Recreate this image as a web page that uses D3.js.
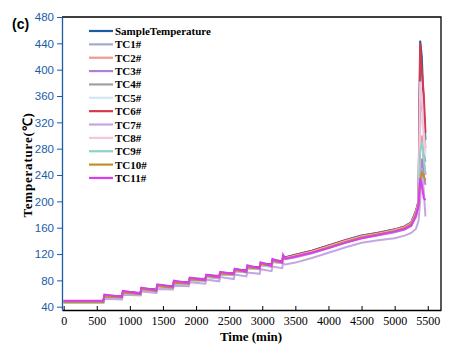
<!DOCTYPE html>
<html><head><meta charset="utf-8">
<script src="https://cdn.jsdelivr.net/npm/d3@7"></script>
<style>
html,body{margin:0;padding:0;background:#fff;}
svg{display:block;}
</style></head>
<body>
<svg id="chart" width="469" height="355"></svg>
<script>
// ---- data ----
const seriesNames = ["SampleTemperature","TC1#","TC2#","TC3#","TC4#","TC5#","TC6#","TC7#","TC8#","TC9#","TC10#","TC11#"];
const seriesColors = ["#1a5ca8","#a3aad3","#f0998c","#ad82d3","#a0a0a0","#d2e8f0","#d8384c","#c4a6e0","#f3c6e0","#92d0c8","#bf9129","#dc3cf0"];
const timeMin = [0,600,615,880,895,1160,1175,1400,1415,1650,1665,1890,1905,2140,2155,2350,2365,2570,2585,2760,2775,2960,2975,3140,3155,3300,3315,3350,3500,3750,4000,4250,4500,4750,5000,5150,5250,5320,5360,5385,5410,5440,5465];
const sampleTemp = [48.5,48.5,57,56,63,61,68,66,73,71,78,77,83,82,88,86.5,92,91,97,95,101,100,106,104.5,111,109,116,115,119,125,133,141,148,152.5,157.5,162,168,185,200,444,420,340,293];
const tc1 = [47,47,55,54,61,59,66,64,71,69,76,75,81,80,86,84.5,90,89,95,93,99,98,104,102.5,109,107,114,113,117,123,131,139,146,150.5,155.5,160,166,182,196,300,290,275,260];
const tc2 = [47.5,47.5,56,55,62,60,67,65,72,70,77,76,82,81,87,85.5,91,90,96,94,100,99,105,103.5,110,108,115,114,118,124,132,140,147,151.5,156.5,161,167,183,197,290,300,260,240];
const tc3 = [46.5,46.5,54,53,60,58,65,63,70,68,75,74,80,79,85,83,89,88,94,92,98,97,103,101,108,106,113,112,115,121,129,137,144,148.5,153,157,163,176,190,230,265,240,225];
const tc4 = [47.5,47.5,56.5,55,62.5,60,67.5,65,72.5,70,77.5,76,82.5,81,87.5,85.5,91.5,90,96.5,94,100.5,99,105.5,103.5,110.5,108,115.5,114,118,124,132,140,147,151.5,156.5,161,167,183,198,330,362,320,281];
const tc5 = [46,46,54.5,53.5,60.5,58.5,65.5,63.5,70.5,68.5,75.5,74.5,80.5,79.5,85.5,84,89.5,88.5,94.5,92.5,98.5,97.5,103.5,102,108.5,106.5,113.5,112.5,116,122,130,138,145,149.5,154.5,159,165,180,195,310,330,300,270];
const tc6 = [48,48,56.5,55.5,62.5,60.5,67.5,65.5,72.5,70.5,77.5,76.5,82.5,81.5,87.5,86,91.5,90.5,96.5,94.5,100.5,99.5,105.5,104,110.5,108.5,115.5,114.5,118.5,124.5,132.5,140.5,147.5,152,157,161.5,167.5,184,199,440,398,362,304];
const tc7 = [46,46,52,51,58,57,63,61,67,66,72,71,77,75,81,78.5,85,82,89,86,92,90,97,94,101,98.5,106,104,107,114,122,130,137,141,144,148,152,158,170,200,250,215,177];
const tc8 = [47,47,55.5,54.5,61.5,59.5,66.5,64.5,71.5,69.5,76.5,75.5,81.5,80.5,86.5,85,90.5,89.5,95.5,93.5,99.5,98.5,104.5,103,109.5,107.5,114.5,113.5,117.5,123.5,131.5,139.5,146.5,151,156,160.5,166.5,182,197,382,360,300,276];
const tc9 = [46.5,46.5,55,53.5,61,58.5,66,63.5,71,68.5,76,74.5,81,79.5,86,84,90,88.5,95,92.5,99,97.5,104,102,109,106.5,114,112.5,116,122,130,138,145,149.5,154.5,159,165,180,194,276,290,265,243];
const tc10 = [47,47,55.5,54,61.5,59,66.5,64,71.5,69,76.5,75,81.5,80,86.5,84.5,90.5,89,95.5,93,99.5,98,104.5,102.5,109.5,107,114.5,113,116.5,122.5,130.5,138.5,145.5,150,155,159.5,165.5,180,194,232,244,238,232];
const tc11 = [49,49,58.5,55,64,60,69,64.5,74,70,79.5,76,84,80.5,88.5,85,93,89.5,97.5,93,103,98,107.5,102,112.5,107,119,113,116,122,129,137,144,149,154,158,163,178,193,235,225,205,202];
const xTicks = [0,500,1000,1500,2000,2500,3000,3500,4000,4500,5000,5500];
const yTicks = [40,80,120,160,200,240,280,320,360,400,440,480];
const allSeries = [sampleTemp,tc1,tc2,tc3,tc4,tc5,tc6,tc7,tc8,tc9,tc10,tc11];

// ---- chart ----
const svg = d3.select("#chart");
const L = 62, R = 441, T = 17, B = 310;
const x = d3.scaleLinear().domain([-25, 5700]).range([L, R]);
const y = d3.scaleLinear().domain([35, 480]).range([B, T]);
const serif = "'Liberation Serif','Times New Roman',serif";
const sans = "'Liberation Sans',Arial,sans-serif";

// frame (top & right)
svg.append("path").attr("d", `M${L},${T}H${R}V${B}`).attr("fill","none").attr("stroke","#000").attr("stroke-width",1.3);

// lines
const line = d3.line().x((d,i)=>x(timeMin[i])).y(d=>y(d));
const lg = svg.append("g");
allSeries.forEach((s,k)=>{
  lg.append("path").datum(s).attr("d", line).attr("fill","none")
    .attr("stroke", seriesColors[k]).attr("stroke-width", 2).attr("stroke-linejoin","miter");
});

// x axis
const xa = svg.append("g").attr("transform",`translate(0,${B})`)
  .call(d3.axisBottom(x).tickValues(xTicks).tickFormat(d3.format("d")).tickSize(-4).tickPadding(6).tickSizeOuter(0));
xa.select(".domain").attr("stroke","#000").attr("stroke-width",1.3);
xa.selectAll(".tick line").attr("stroke","#000");
xa.selectAll("text").attr("font-family", serif).attr("font-size", 12).attr("fill","#000");

// y axis
const ya = svg.append("g").attr("transform",`translate(${L},0)`)
  .call(d3.axisLeft(y).tickValues(yTicks).tickSize(5).tickPadding(3).tickSizeOuter(0));
ya.select(".domain").attr("stroke","#1a5ca8").attr("stroke-width",1.3);
ya.selectAll(".tick line").attr("stroke","#1a5ca8");
ya.selectAll("text").attr("font-family", sans).attr("font-size", 11.5).attr("fill","#1a5ca8");

// titles
svg.append("text").attr("x", 251).attr("y", 341).attr("text-anchor","middle")
  .attr("font-family", serif).attr("font-weight","bold").attr("font-size", 13).text("Time (min)");
svg.append("text").attr("transform","translate(32,165) rotate(-90)").attr("text-anchor","middle")
  .attr("font-family", serif).attr("font-weight","bold").attr("font-size", 13)
  .attr("letter-spacing", 0.8).text("Temperature(℃)");
svg.append("text").attr("x", 12).attr("y", 29).attr("font-family", sans).attr("font-weight","bold")
  .attr("font-size", 14).text("(c)");

// legend
const leg = svg.append("g");
seriesNames.forEach((n,k)=>{
  const yy = 31 + k*13.36;
  leg.append("line").attr("x1",89).attr("x2",113).attr("y1",yy).attr("y2",yy)
    .attr("stroke", seriesColors[k]).attr("stroke-width",2.2);
  leg.append("text").attr("x",115).attr("y",yy+4).attr("font-family", serif)
    .attr("font-weight","bold").attr("font-size",11).attr("fill","#000").text(n);
});
</script>
</body></html>
